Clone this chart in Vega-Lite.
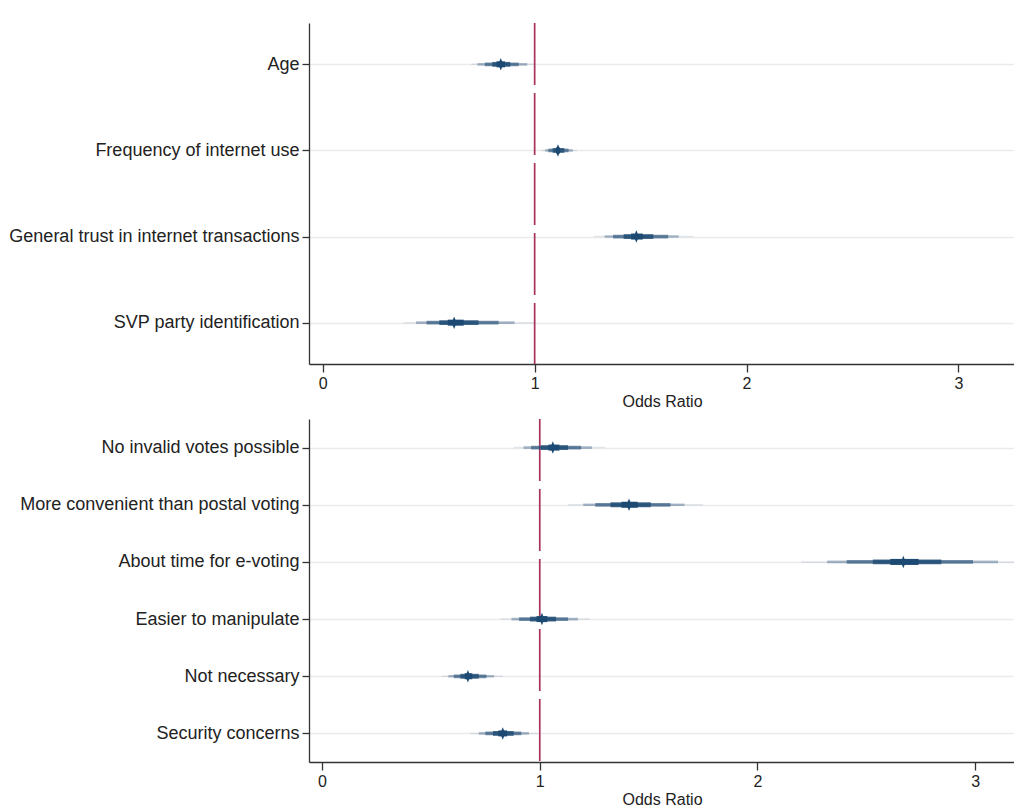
{
  "$schema": "https://vega.github.io/schema/vega-lite/v6.json",
  "padding": {"left": 8, "top": 22, "right": 0, "bottom": 0},
  "spacing": 9,
  "config": {
    "view": {"stroke": null},
    "font": "Liberation Sans",
    "axis": {"domainColor": "#333", "tickColor": "#333", "labelColor": "#222", "titleColor": "#222", "titleFontWeight": "normal", "domainWidth": 1.3, "tickWidth": 1.3},
    "axisX": {"grid": false, "tickSize": 8, "labelFontSize": 16, "labelPadding": 3, "titleFontSize": 16, "titlePadding": 2, "format": "d"},
    "axisY": {"grid": true, "gridColor": "#ebebeb", "gridWidth": 1.5, "tickSize": 7, "labelFontSize": 18, "labelPadding": 3, "labelLimit": 400, "minExtent": 300, "maxExtent": 300}
  },
  "datasets": {
    "ref": [{"x": 1}],
    "topLevels": [
      {"var": "Age", "level": 1, "lo": 0.70, "hi": 1.00},
      {"var": "Age", "level": 2, "lo": 0.73, "hi": 0.965},
      {"var": "Age", "level": 3, "lo": 0.765, "hi": 0.925},
      {"var": "Age", "level": 4, "lo": 0.80, "hi": 0.885},
      {"var": "Age", "level": 5, "lo": 0.82, "hi": 0.86},
      {"var": "Frequency of internet use", "level": 1, "lo": 1.03, "hi": 1.20},
      {"var": "Frequency of internet use", "level": 2, "lo": 1.05, "hi": 1.18},
      {"var": "Frequency of internet use", "level": 3, "lo": 1.065, "hi": 1.16},
      {"var": "Frequency of internet use", "level": 4, "lo": 1.085, "hi": 1.14},
      {"var": "Frequency of internet use", "level": 5, "lo": 1.10, "hi": 1.12},
      {"var": "General trust in internet transactions", "level": 1, "lo": 1.28, "hi": 1.75},
      {"var": "General trust in internet transactions", "level": 2, "lo": 1.33, "hi": 1.68},
      {"var": "General trust in internet transactions", "level": 3, "lo": 1.37, "hi": 1.63},
      {"var": "General trust in internet transactions", "level": 4, "lo": 1.42, "hi": 1.56},
      {"var": "General trust in internet transactions", "level": 5, "lo": 1.455, "hi": 1.51},
      {"var": "SVP party identification", "level": 1, "lo": 0.38, "hi": 1.00},
      {"var": "SVP party identification", "level": 2, "lo": 0.44, "hi": 0.905},
      {"var": "SVP party identification", "level": 3, "lo": 0.49, "hi": 0.83},
      {"var": "SVP party identification", "level": 4, "lo": 0.55, "hi": 0.735},
      {"var": "SVP party identification", "level": 5, "lo": 0.59, "hi": 0.665}
    ],
    "topEst": [
      {"var": "Age", "est": 0.84},
      {"var": "Frequency of internet use", "est": 1.11},
      {"var": "General trust in internet transactions", "est": 1.48},
      {"var": "SVP party identification", "est": 0.62}
    ],
    "botLevels": [
      {"var": "No invalid votes possible", "level": 1, "lo": 0.88, "hi": 1.30},
      {"var": "No invalid votes possible", "level": 2, "lo": 0.925, "hi": 1.24},
      {"var": "No invalid votes possible", "level": 3, "lo": 0.96, "hi": 1.19},
      {"var": "No invalid votes possible", "level": 4, "lo": 1.005, "hi": 1.13},
      {"var": "No invalid votes possible", "level": 5, "lo": 1.04, "hi": 1.09},
      {"var": "More convenient than postal voting", "level": 1, "lo": 1.13, "hi": 1.75},
      {"var": "More convenient than postal voting", "level": 2, "lo": 1.20, "hi": 1.665},
      {"var": "More convenient than postal voting", "level": 3, "lo": 1.255, "hi": 1.6},
      {"var": "More convenient than postal voting", "level": 4, "lo": 1.325, "hi": 1.51},
      {"var": "More convenient than postal voting", "level": 5, "lo": 1.375, "hi": 1.45},
      {"var": "About time for e-voting", "level": 1, "lo": 2.20, "hi": 3.25},
      {"var": "About time for e-voting", "level": 2, "lo": 2.32, "hi": 3.105},
      {"var": "About time for e-voting", "level": 3, "lo": 2.41, "hi": 2.99},
      {"var": "About time for e-voting", "level": 4, "lo": 2.53, "hi": 2.845},
      {"var": "About time for e-voting", "level": 5, "lo": 2.61, "hi": 2.74},
      {"var": "Easier to manipulate", "level": 1, "lo": 0.82, "hi": 1.23},
      {"var": "Easier to manipulate", "level": 2, "lo": 0.87, "hi": 1.175},
      {"var": "Easier to manipulate", "level": 3, "lo": 0.905, "hi": 1.13},
      {"var": "Easier to manipulate", "level": 4, "lo": 0.955, "hi": 1.075},
      {"var": "Easier to manipulate", "level": 5, "lo": 0.985, "hi": 1.035},
      {"var": "Not necessary", "level": 1, "lo": 0.55, "hi": 0.83},
      {"var": "Not necessary", "level": 2, "lo": 0.58, "hi": 0.79},
      {"var": "Not necessary", "level": 3, "lo": 0.605, "hi": 0.755},
      {"var": "Not necessary", "level": 4, "lo": 0.635, "hi": 0.72},
      {"var": "Not necessary", "level": 5, "lo": 0.655, "hi": 0.69},
      {"var": "Security concerns", "level": 1, "lo": 0.68, "hi": 0.99},
      {"var": "Security concerns", "level": 2, "lo": 0.72, "hi": 0.95},
      {"var": "Security concerns", "level": 3, "lo": 0.75, "hi": 0.915},
      {"var": "Security concerns", "level": 4, "lo": 0.785, "hi": 0.88},
      {"var": "Security concerns", "level": 5, "lo": 0.81, "hi": 0.85}
    ],
    "botEst": [
      {"var": "No invalid votes possible", "est": 1.06},
      {"var": "More convenient than postal voting", "est": 1.41},
      {"var": "About time for e-voting", "est": 2.67},
      {"var": "Easier to manipulate", "est": 1.01},
      {"var": "Not necessary", "est": 0.67},
      {"var": "Security concerns", "est": 0.83}
    ]
  },
  "vconcat": [
    {
      "width": 706,
      "height": 341,
      "layer": [
        {
          "data": {"name": "ref"},
          "mark": {"type": "rule", "color": "#a8325e", "strokeWidth": 1.7, "strokeDash": [62, 8]},
          "encoding": {"x": {"field": "x", "type": "quantitative"}}
        },
        {
          "data": {"name": "topLevels"},
          "mark": {"type": "rule", "color": "#1d4a73", "clip": true, "strokeCap": "butt"},
          "encoding": {
            "y": {"field": "var", "type": "nominal", "title": null, "scale": {"type": "point", "padding": 0.48, "domain": ["Age", "Frequency of internet use", "General trust in internet transactions", "SVP party identification"]}},
            "x": {"field": "lo", "type": "quantitative", "title": "Odds Ratio", "scale": {"domain": [-0.065, 3.267], "nice": false, "zero": false}, "axis": {"values": [0, 1, 2, 3]}},
            "x2": {"field": "hi"},
            "strokeWidth": {"field": "level", "type": "quantitative", "scale": {"domain": [1, 5], "range": [1.5, 6]}, "legend": null},
            "opacity": {"field": "level", "type": "quantitative", "scale": {"domain": [1, 5], "range": [0.12, 1]}, "legend": null}
          }
        },
        {
          "data": {"name": "topEst"},
          "mark": {"type": "point", "filled": true, "color": "#1d4a73", "opacity": 1, "shape": "M0,-1.5L0.6,0L0,1.5L-0.6,0Z", "size": 70},
          "encoding": {
            "y": {"field": "var", "type": "nominal", "title": null},
            "x": {"field": "est", "type": "quantitative"}
          }
        }
      ]
    },
    {
      "width": 706,
      "height": 343,
      "layer": [
        {
          "data": {"name": "ref"},
          "mark": {"type": "rule", "color": "#a8325e", "strokeWidth": 1.7, "strokeDash": [62, 8]},
          "encoding": {"x": {"field": "x", "type": "quantitative"}}
        },
        {
          "data": {"name": "botLevels"},
          "mark": {"type": "rule", "color": "#1d4a73", "clip": true, "strokeCap": "butt"},
          "encoding": {
            "y": {"field": "var", "type": "nominal", "title": null, "scale": {"type": "point", "padding": 0.5, "domain": ["No invalid votes possible", "More convenient than postal voting", "About time for e-voting", "Easier to manipulate", "Not necessary", "Security concerns"]}},
            "x": {"field": "lo", "type": "quantitative", "title": "Odds Ratio", "scale": {"domain": [-0.06, 3.183], "nice": false, "zero": false}, "axis": {"values": [0, 1, 2, 3]}},
            "x2": {"field": "hi"},
            "strokeWidth": {"field": "level", "type": "quantitative", "scale": {"domain": [1, 5], "range": [1.5, 6]}, "legend": null},
            "opacity": {"field": "level", "type": "quantitative", "scale": {"domain": [1, 5], "range": [0.12, 1]}, "legend": null}
          }
        },
        {
          "data": {"name": "botEst"},
          "mark": {"type": "point", "filled": true, "color": "#1d4a73", "opacity": 1, "shape": "M0,-1.5L0.6,0L0,1.5L-0.6,0Z", "size": 70},
          "encoding": {
            "y": {"field": "var", "type": "nominal", "title": null},
            "x": {"field": "est", "type": "quantitative"}
          }
        }
      ]
    }
  ]
}
